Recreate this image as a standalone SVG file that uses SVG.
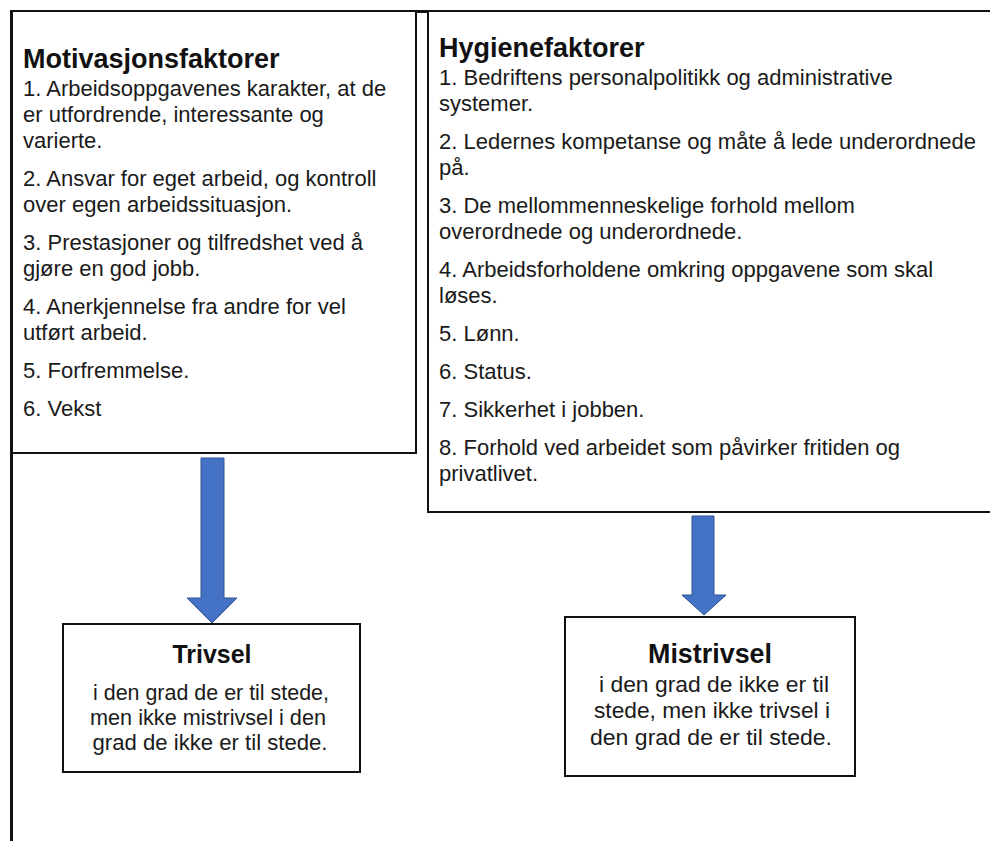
<svg xmlns="http://www.w3.org/2000/svg" width="990" height="841" viewBox="0 0 990 841">
<style>
.box{fill:#fff;stroke:#111;stroke-width:2}
.frame{fill:none;stroke:#111;stroke-width:3}
.hd{font-family:"Liberation Sans",Arial,sans-serif;font-weight:bold;font-size:27px;fill:#111}
.bd{font-family:"Liberation Sans",Arial,sans-serif;font-size:22px;fill:#1a1a1a}
.st{font-family:"Liberation Sans",Arial,sans-serif;font-weight:bold;fill:#111;text-anchor:middle}
.sb{font-family:"Liberation Sans",Arial,sans-serif;font-size:22px;fill:#1a1a1a;text-anchor:middle}
.arrow{fill:#4472C4;stroke:#2F528F;stroke-width:1}
</style>
<rect width="990" height="841" fill="#fff"/>
<g id="frame">
<path class="frame" d="M990,11.5 H11.5 V841"/>
</g>
<g id="node-motivasjon">
<rect class="box" x="11" y="11" width="405" height="442"/>
<path class="frame" d="M11.5,11 V453"/>
<text class="hd" x="23" y="68">Motivasjonsfaktorer</text>
<text class="bd" x="23" y="96">1. Arbeidsoppgavenes karakter, at de</text>
<text class="bd" x="23" y="122">er utfordrende, interessante og</text>
<text class="bd" x="23" y="148">varierte.</text>
<text class="bd" x="23" y="186">2. Ansvar for eget arbeid, og kontroll</text>
<text class="bd" x="23" y="212">over egen arbeidssituasjon.</text>
<text class="bd" x="23" y="250">3. Prestasjoner og tilfredshet ved å</text>
<text class="bd" x="23" y="276">gjøre en god jobb.</text>
<text class="bd" x="23" y="314">4. Anerkjennelse fra andre for vel</text>
<text class="bd" x="23" y="340">utført arbeid.</text>
<text class="bd" x="23" y="378">5. Forfremmelse.</text>
<text class="bd" x="23" y="416">6. Vekst</text>
</g>
<g id="node-hygiene">
<rect class="box" x="428" y="11" width="600" height="501"/>
<text class="hd" x="439" y="57">Hygienefaktorer</text>
<text class="bd" x="439" y="85">1. Bedriftens personalpolitikk og administrative</text>
<text class="bd" x="439" y="111">systemer.</text>
<text class="bd" x="439" y="149">2. Ledernes kompetanse og måte å lede underordnede</text>
<text class="bd" x="439" y="175">på.</text>
<text class="bd" x="439" y="213">3. De mellommenneskelige forhold mellom</text>
<text class="bd" x="439" y="239">overordnede og underordnede.</text>
<text class="bd" x="439" y="277">4. Arbeidsforholdene omkring oppgavene som skal</text>
<text class="bd" x="439" y="303">løses.</text>
<text class="bd" x="439" y="341">5. Lønn.</text>
<text class="bd" x="439" y="379">6. Status.</text>
<text class="bd" x="439" y="417">7. Sikkerhet i jobben.</text>
<text class="bd" x="439" y="455">8. Forhold ved arbeidet som påvirker fritiden og</text>
<text class="bd" x="439" y="481">privatlivet.</text>
</g>
<g id="connectors">
<path class="arrow" d="M201,458 H224 V598 H237 L212,623 L187,598 H201 Z"/>
<path class="arrow" d="M692,516 H714 V595 H726 L704,615 L682,595 H692 Z"/>
</g>
<g id="node-trivsel">
<rect class="box" x="63" y="624" width="297" height="148"/>
<text class="st" x="212" y="663" font-size="25" textLength="79" lengthAdjust="spacingAndGlyphs">Trivsel</text>
<text class="sb" x="211" y="700" textLength="236" lengthAdjust="spacingAndGlyphs">i den grad de er til stede,</text>
<text class="sb" x="208" y="725" textLength="236" lengthAdjust="spacingAndGlyphs">men ikke mistrivsel i den</text>
<text class="sb" x="210" y="750" textLength="235" lengthAdjust="spacingAndGlyphs">grad de ikke er til stede.</text>
</g>
<g id="node-mistrivsel">
<rect class="box" x="565" y="617" width="290" height="159"/>
<text class="st" x="710" y="663" font-size="27" textLength="124" lengthAdjust="spacingAndGlyphs">Mistrivsel</text>
<text class="sb" x="714" y="692" textLength="230" lengthAdjust="spacingAndGlyphs">i den grad de ikke er til</text>
<text class="sb" x="712" y="718" textLength="236" lengthAdjust="spacingAndGlyphs">stede, men ikke trivsel i</text>
<text class="sb" x="711" y="745" textLength="242" lengthAdjust="spacingAndGlyphs">den grad de er til stede.</text>
</g>
</svg>
